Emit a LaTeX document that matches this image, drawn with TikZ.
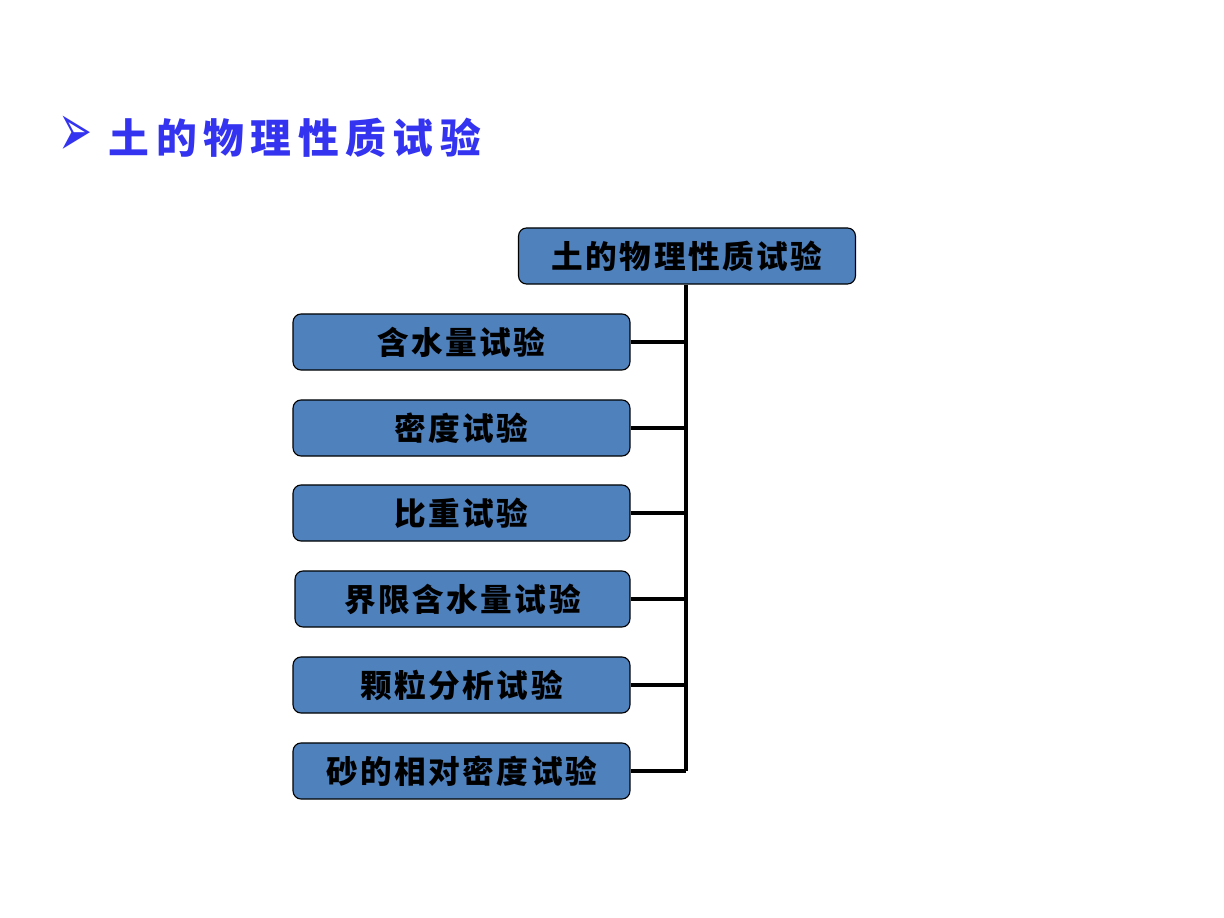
\documentclass[tikz,border=0pt]{standalone}
\usepackage{fontspec}
\usepackage{tikz}
\newfontfamily\cjk{Noto Sans CJK SC}
\newfontfamily\cjkbox{Noto Sans CJK SC}[LetterSpace=8]
\newfontfamily\cjktitle{Noto Sans CJK SC}[LetterSpace=16]
\newfontfamily\symfont{DejaVu Sans}
\definecolor{Boxblue}{RGB}{79, 129, 189}
\definecolor{Titleblue}{RGB}{51, 51, 240}
\tikzset{
  testbox/.style={draw=black, line width=0.8pt, fill=Boxblue, rounded corners=0.2cm,
    minimum width=8.42cm, minimum height=1.4cm, inner sep=0pt,
    font=\cjkbox\fontsize{22.5}{22.5}\selectfont\bfseries},
  link/.style={line width=2.8pt}
}

\begin{document}
\begin{tikzpicture}[x=0.025cm, y=-0.025cm]
\useasboundingbox (0,0) rectangle (1224,918);
% title
\node[text=Titleblue, font=\symfont\fontsize{40}{40}\selectfont] (arrow) at (75,136) {\scalebox{0.72}[1.35]{➢}};
\node[anchor=west, text=Titleblue, font=\cjktitle\fontsize{29}{29}\selectfont\bfseries] (title) at (104,138) {土的物理性质试验};
% boxes
\node[testbox] (root) at (687,256) {土的物理性质试验};
\node[testbox] (water) at (461.5,342) {含水量试验};
\node[testbox] (density) at (461.5,428) {密度试验};
\node[testbox] (gravity) at (461.5,513) {比重试验};
\node[testbox, minimum width=8.37cm] (limit) at (462.5,599) {界限含水量试验};
\node[testbox] (grain) at (461.5,685) {颗粒分析试验};
\node[testbox] (sand) at (461.5,771) {砂的相对密度试验};
% connectors
\coordinate (trunk) at (686,771);
\draw[link] (root.south -| trunk) -- (trunk);
\foreach \n in {water, density, gravity, limit, grain, sand}
  \draw[link] (\n.east) -- (\n.east -| trunk);
\end{tikzpicture}
\end{document}
